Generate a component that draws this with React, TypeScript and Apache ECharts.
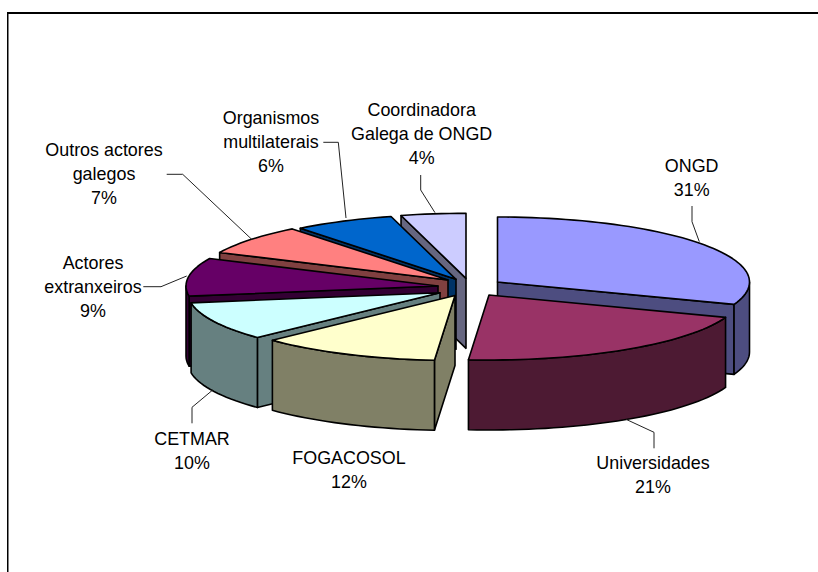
import React, { useEffect, useRef } from "react";
import * as echarts from "echarts";

const categories = [
  "ONGD",
  "Universidades",
  "FOGACOSOL",
  "CETMAR",
  "Actores\nextranxeiros",
  "Outros actores\ngalegos",
  "Organismos\nmultilaterais",
  "Coordinadora\nGalega de ONGD",
];
const values = [30.6, 20.7, 11.6, 9.6, 9.45, 7.45, 6.45, 4.15];
const topColors = ["#9999FF", "#993366", "#FFFFCC", "#CCFFFF", "#660066", "#FF8080", "#0066CC", "#CCCCFF"];
const sideColors = ["#4D4D80", "#4D1A33", "#808066", "#668080", "#330033", "#804040", "#003366", "#666680"];

// Layout of the exploded 3D pie
const apexes = [[497.5, 282], [489, 295], [455, 295.5], [440, 292.7], [438, 286], [448, 280], [456, 279.3], [466, 278.3]];
const drawOrder = [7, 6, 5, 4, 3, 2, 0, 1];
const RX = 252;
const RY = 65;
const DEPTH = 70;
const labelPos = [[691.7, 178], [653, 475], [349, 469.5], [192, 450.5], [93, 287], [104, 174], [271, 142], [421.7, 134]];
const leaders = [
  [[692, 206], [692, 221.7], [699.3, 241.7]],
  [[654, 448.3], [654, 432.3], [626, 419.3]],
  null,
  [[192, 423.3], [192, 407.3], [212.7, 390]],
  [[143.3, 286.7], [161, 286.7], [186.7, 276]],
  [[166.7, 174.3], [182.7, 174.3], [251.7, 239.3]],
  [[323.3, 142.3], [338.3, 142.3], [346, 218]],
  [[420.7, 175], [420.7, 190], [435, 212.7]],
];

const total = values.reduce((a, b) => a + b, 0);
const startAngles = values.map((_, i) => (values.slice(0, i).reduce((a, b) => a + b, 0) / total) * 360);

function rim(apex: number[], deg: number, dy = 0) {
  const t = (deg * Math.PI) / 180;
  return [apex[0] + RX * Math.sin(t), apex[1] - RY * Math.cos(t) + dy];
}
function arc(apex: number[], a: number, b: number, dy = 0) {
  const pts: number[][] = [];
  const n = Math.max(2, Math.ceil((b - a) / 2));
  for (let k = 0; k <= n; k++) pts.push(rim(apex, a + ((b - a) * k) / n, dy));
  return pts;
}
function edgeVisible(A: number[], R: number[], M: number[]) {
  const side = (P: number[]) => (R[0] - A[0]) * (P[1] - A[1]) - (R[1] - A[1]) * (P[0] - A[0]);
  return side(M) * side([A[0], A[1] + DEPTH]) < 0;
}

function renderSlice(_params: any, api: any) {
  const i = api.value(0);
  const a = startAngles[i];
  const b = a + (api.value(1) / total) * 360;
  const A = apexes[i];
  const outline = { stroke: "#000", lineWidth: 1.6, lineJoin: "round" };
  const M = rim(A, (a + b) / 2);
  const children: any[] = [];
  const quad = (deg: number) => {
    const R = rim(A, deg);
    if (edgeVisible(A, R, M)) {
      children.push({
        type: "polygon",
        shape: { points: [A, R, [R[0], R[1] + DEPTH], [A[0], A[1] + DEPTH]] },
        style: { fill: sideColors[i], ...outline },
      });
    }
  };
  quad(a);
  quad(b);
  const r0 = Math.max(a, 90);
  const r1 = Math.min(b, 270);
  if (r1 > r0) {
    children.push({
      type: "polygon",
      shape: { points: [...arc(A, r0, r1), ...arc(A, r0, r1, DEPTH).reverse()] },
      style: { fill: sideColors[i], ...outline },
    });
  }
  children.push({
    type: "polygon",
    shape: { points: [A, ...arc(A, a, b)] },
    style: { fill: topColors[i], ...outline },
  });
  return { type: "group", children };
}

function renderLabel(_params: any, api: any) {
  const i = api.value(0);
  const children: any[] = [
    {
      type: "text",
      style: {
        text: `${categories[i]}\n${Math.round((api.value(1) / total) * 100)}%`,
        x: labelPos[i][0],
        y: labelPos[i][1],
        align: "center",
        verticalAlign: "middle",
        fontFamily: "Liberation Sans",
        fontSize: 17.9,
        lineHeight: 24,
        fill: "#000",
      },
    },
  ];
  const line = leaders[i];
  if (line) {
    children.push({
      type: "polyline",
      shape: { points: line },
      style: { stroke: "#222", lineWidth: 1, fill: "none" },
    });
  }
  return { type: "group", children };
}

export default function App() {
  const ref = useRef<HTMLDivElement>(null);
  useEffect(() => {
    document.body.style.margin = "0";
    const chart = echarts.init(ref.current!, null, { renderer: "svg" });
    chart.setOption({
      animation: false,
      backgroundColor: "#fff",
      graphic: [
        { type: "line", shape: { x1: 7, y1: 13, x2: 818, y2: 13 }, style: { stroke: "#000", lineWidth: 2 } },
        { type: "line", shape: { x1: 7.75, y1: 12, x2: 7.75, y2: 572 }, style: { stroke: "#000", lineWidth: 1.5 } },
      ],
      series: [
        {
          type: "custom",
          coordinateSystem: "none",
          silent: true,
          renderItem: renderSlice,
          data: drawOrder.map((i) => [i, values[i]]),
        },
        {
          type: "custom",
          coordinateSystem: "none",
          silent: true,
          renderItem: renderLabel,
          data: values.map((v, i) => [i, v]),
        },
      ],
    });
    return () => chart.dispose();
  }, []);
  return <div ref={ref} style={{ width: 818, height: 572 }} />;
}
